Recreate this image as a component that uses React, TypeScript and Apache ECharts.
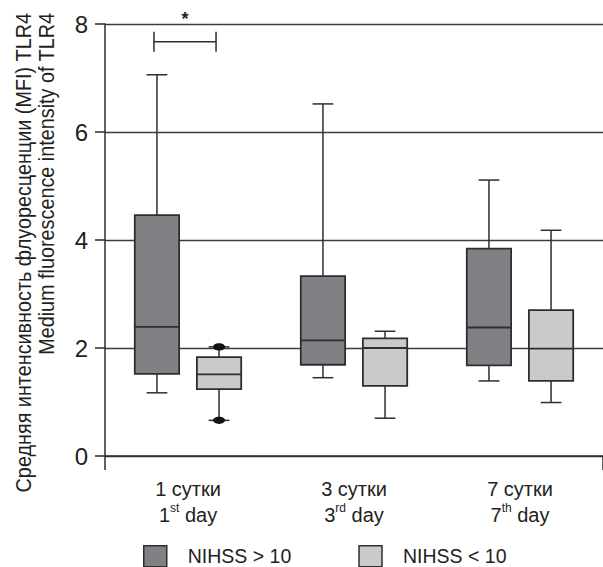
import React, { useEffect, useRef } from 'react';
import * as echarts from 'echarts';

const categories = ['1 сутки', '3 сутки', '7 сутки'];
const dayNumbers = ['1', '3', '7'];
const daySuffixes = ['st', 'rd', 'th'];
const seriesNames = ['NIHSS > 10', 'NIHSS < 10'];
// [min, Q1, median, Q3, max]
const severeBoxes = [
  [1.17, 1.52, 2.39, 4.46, 7.06],
  [1.45, 1.69, 2.14, 3.33, 6.52],
  [1.39, 1.68, 2.38, 3.84, 5.11],
];
const mildBoxes = [
  [0.66, 1.24, 1.51, 1.83, 2.02],
  [0.7, 1.3, 2.0, 2.18, 2.31],
  [0.99, 1.39, 1.99, 2.7, 4.18],
];
const severeEndMarkers = [0, 0, 0];
const mildEndMarkers = [1, 0, 0];
const yMin = 0;
const yMax = 8;
const yStep = 2;
const significance = [[0, 7.67]];
const significanceLabels = ['*'];
const yTitleLines = [
  'Средняя интенсивность флуоресценции (MFI) TLR4',
  'Medium fluorescence intensity of TLR4',
];

const FONT = "'Liberation Sans', Arial, sans-serif";
const TEXT = '#231f20';
const STROKE = '#2e2e2e';
const DARK = '#808184';
const LIGHT = '#c9cacc';
const OFFSETS = [-0.187, 0.187];
const BOX_FRAC = 0.267;
const CAP_FRAC = 0.125;

const makeBoxRender = (offsetFrac: number, fill: string) => (params: any, api: any) => {
  const idx = api.value(0);
  const band = api.size([1, 0])[0];
  const cx = api.coord([idx, 0])[0] + offsetFrac * band;
  const y = (v: number) => api.coord([idx, v])[1];
  const pMin = y(api.value(1));
  const pQ1 = y(api.value(2));
  const pMed = y(api.value(3));
  const pQ3 = y(api.value(4));
  const pMax = y(api.value(5));
  const half = (band * BOX_FRAC) / 2;
  const capHalf = (band * CAP_FRAC) / 2;
  const ls = { stroke: STROKE, lineWidth: 1.5 };
  const children: any[] = [
    { type: 'line', shape: { x1: cx, y1: pMax, x2: cx, y2: pQ3 }, style: ls },
    { type: 'line', shape: { x1: cx, y1: pQ1, x2: cx, y2: pMin }, style: ls },
    { type: 'line', shape: { x1: cx - capHalf, y1: pMax, x2: cx + capHalf, y2: pMax }, style: ls },
    { type: 'line', shape: { x1: cx - capHalf, y1: pMin, x2: cx + capHalf, y2: pMin }, style: ls },
    {
      type: 'rect',
      shape: { x: cx - half, y: pQ3, width: half * 2, height: pQ1 - pQ3 },
      style: { fill, stroke: STROKE, lineWidth: 1.8 },
    },
    { type: 'line', shape: { x1: cx - half, y1: pMed, x2: cx + half, y2: pMed }, style: { stroke: STROKE, lineWidth: 1.8 } },
  ];
  if (api.value(6)) {
    [pMax, pMin].forEach((py) => {
      children.push({ type: 'ellipse', shape: { cx, cy: py, rx: 6, ry: 3.6 }, style: { fill: '#111' } });
    });
  }
  return { type: 'group', children };
};

export default function App() {
  const ref = useRef<HTMLDivElement>(null);
  useEffect(() => {
    document.body.style.margin = '0';
    if (!ref.current) return;
    const chart = echarts.init(ref.current, null, { renderer: 'svg' });
    const gridRect = { left: 105, right: -7.5, top: 24, bottom: 111 };
    const option: any = {
      animation: false,
      backgroundColor: '#ffffff',
      grid: [{ ...gridRect }, { ...gridRect }],
      xAxis: [
        {
          type: 'category',
          gridIndex: 0,
          data: categories,
          axisLine: { lineStyle: { color: STROKE, width: 1.5 } },
          axisTick: { alignWithLabel: true, length: 14, lineStyle: { color: STROKE, width: 1.5 } },
          axisLabel: {
            interval: 0,
            margin: 20,
            formatter: (value: string, index: number) =>
              `{a|${value}}\n{a|${dayNumbers[index]}}{sup|${daySuffixes[index]}}{a| day}`,
            rich: {
              a: { fontSize: 20, lineHeight: 26, fontFamily: FONT, color: TEXT },
              sup: { fontSize: 12, lineHeight: 14, fontFamily: FONT, color: TEXT, verticalAlign: 'top' },
            },
          },
        },
        {
          type: 'value',
          gridIndex: 1,
          min: 0,
          max: 3,
          interval: 3,
          axisLine: { show: false },
          axisTick: { show: true, length: 14, lineStyle: { color: STROKE, width: 1.5 } },
          axisLabel: { show: false },
          splitLine: { show: false },
        },
      ],
      yAxis: [
        {
          type: 'value',
          gridIndex: 0,
          min: yMin,
          max: yMax,
          interval: yStep,
          axisLine: { show: true, lineStyle: { color: STROKE, width: 1.5 } },
          axisTick: { show: true, length: 10, lineStyle: { color: STROKE, width: 1.5 } },
          axisLabel: { fontSize: 24, fontFamily: FONT, color: TEXT, margin: 17 },
          splitLine: { show: true, lineStyle: { color: '#3d3d3d', width: 1.4 } },
        },
        { type: 'value', gridIndex: 1, min: yMin, max: yMax, show: false },
      ],
      legend: {
        left: 143,
        top: 545,
        padding: 0,
        icon: 'rect',
        itemWidth: 23,
        itemHeight: 21,
        itemGap: 67,
        textStyle: { fontSize: 19.5, fontFamily: FONT, color: TEXT, padding: [0, 0, 0, 16] },
        data: [
          { name: seriesNames[0], itemStyle: { color: DARK, borderColor: STROKE, borderWidth: 1.5 } },
          { name: seriesNames[1], itemStyle: { color: LIGHT, borderColor: STROKE, borderWidth: 1.5 } },
        ],
      },
      graphic: yTitleLines.map((line, i) => ({
        type: 'text',
        x: [23, 46][i],
        y: 13,
        rotation: Math.PI / 2,
        scaleX: 0.88,
        style: {
          text: line,
          fontSize: 22.5,
          fontFamily: FONT,
          fill: TEXT,
          align: 'right',
          verticalAlign: 'middle',
        },
      })),
      series: [
        {
          name: seriesNames[0],
          type: 'custom',
          itemStyle: { color: DARK },
          encode: { x: 0, y: [1, 2, 3, 4, 5] },
          data: severeBoxes.map((b, i) => [i, ...b, severeEndMarkers[i]]),
          renderItem: makeBoxRender(OFFSETS[0], DARK),
          z: 5,
        },
        {
          name: seriesNames[1],
          type: 'custom',
          itemStyle: { color: LIGHT },
          encode: { x: 0, y: [1, 2, 3, 4, 5] },
          data: mildBoxes.map((b, i) => [i, ...b, mildEndMarkers[i]]),
          renderItem: makeBoxRender(OFFSETS[1], LIGHT),
          z: 5,
        },
        {
          name: 'significance',
          type: 'custom',
          clip: false,
          encode: { x: 0, y: 1 },
          data: significance,
          renderItem: (params: any, api: any) => {
            const idx = api.value(0);
            const band = api.size([1, 0])[0];
            const p = api.coord([idx, api.value(1)]);
            const x1 = p[0] + OFFSETS[0] * band - 3;
            const x2 = p[0] + OFFSETS[1] * band - 3;
            const ls = { stroke: STROKE, lineWidth: 1.5 };
            return {
              type: 'group',
              children: [
                { type: 'line', shape: { x1, y1: p[1], x2, y2: p[1] }, style: ls },
                { type: 'line', shape: { x1, y1: p[1] - 10, x2: x1, y2: p[1] + 10 }, style: ls },
                { type: 'line', shape: { x1: x2, y1: p[1] - 10, x2, y2: p[1] + 10 }, style: ls },
                {
                  type: 'text',
                  style: {
                    text: significanceLabels[params.dataIndex],
                    x: (x1 + x2) / 2,
                    y: p[1] - 23,
                    fontSize: 18,
                    fontWeight: 'bold',
                    fontFamily: FONT,
                    fill: TEXT,
                    align: 'center',
                    verticalAlign: 'middle',
                  },
                },
              ],
            };
          },
          z: 6,
        },
      ],
    };
    chart.setOption(option);
    return () => chart.dispose();
  }, []);
  return <div ref={ref} style={{ width: 603, height: 567 }} />;
}
